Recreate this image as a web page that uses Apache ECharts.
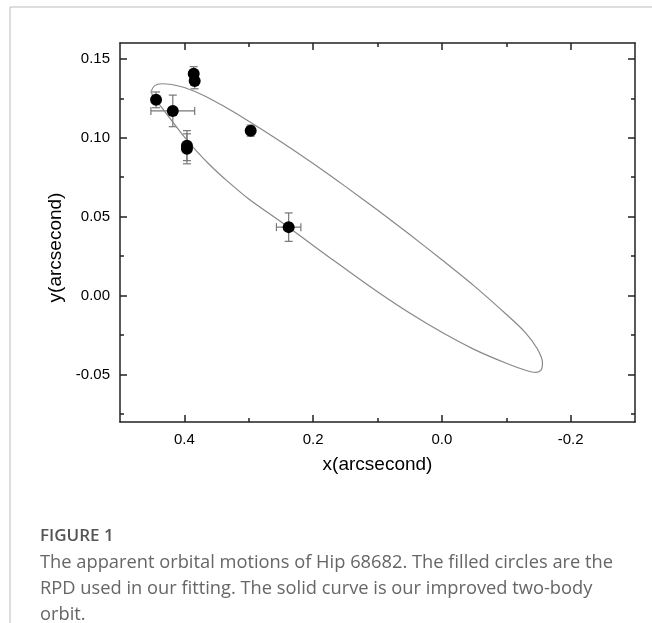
<!DOCTYPE html>
<html>
<head>
<meta charset="utf-8">
<script src="https://cdn.jsdelivr.net/npm/echarts@6/dist/echarts.min.js"></script>
<style>
    html, body { margin: 0; padding: 0; background: #fff; }
    #chart { width: 652px; height: 623px; }
</style>
</head>
<body>
<div id="chart"></div>
<script>
const obsX = [0.444, 0.418, 0.3855, 0.384, 0.396, 0.396, 0.297, 0.238];
const obsY = [0.124, 0.117, 0.1405, 0.136, 0.095, 0.093, 0.1045, 0.0434];
const errX = [0.004, 0.034, 0.003, 0.003, 0.003, 0.003, 0.003, 0.019];
const errY = [0.005, 0.010, 0.0045, 0.005, 0.0095, 0.0095, 0.0035, 0.009];

// Fitted orbit (upper branch, tip, lower branch)
const orbitX = [0.452, 0.446, 0.435, 0.420, 0.400, 0.370, 0.340, 0.300, 0.250, 0.200, 0.150, 0.100, 0.050, 0.000,
    -0.050, -0.100, -0.130, -0.148, -0.1563, -0.154, -0.146, -0.130, -0.100, -0.050, 0.000, 0.050, 0.100, 0.150,
    0.200, 0.250, 0.300, 0.340, 0.360, 0.380, 0.400, 0.420, 0.436, 0.447, 0.452];
const orbitY = [0.129, 0.1330, 0.1342, 0.1337, 0.1318, 0.1268, 0.1202, 0.1105, 0.0975, 0.0837, 0.0692, 0.0542, 0.0387, 0.0227,
    0.0062, -0.0118, -0.0235, -0.0335, -0.0425, -0.0472, -0.0486, -0.0472, -0.0428, -0.0340, -0.0232, -0.0110, 0.0025, 0.0170,
    0.0318, 0.0468, 0.0612, 0.0750, 0.0826, 0.0910, 0.1005, 0.1110, 0.1195, 0.1255, 0.129];

// Tick values
const xMajor = [0.4, 0.2, 0.0, -0.2];
const xMinor = [0.3, 0.1, -0.1];
const yMajor = [-0.05, 0.0, 0.05, 0.10, 0.15];
const yMinor = [-0.075, -0.025, 0.025, 0.075, 0.125];

const chart = echarts.init(document.getElementById('chart'));

const axisColor = '#222';
const sansFont = 'Liberation Sans, Arial, sans-serif';
const labelFont = { fontFamily: sansFont, fontSize: 15, color: '#000' };

// Builds one x or y axis; every side gets a major and a minor copy on the same scale
function makeAxis(kind, position, ticks, len, showLine, labels, extra) {
    const range = kind === 'x' ? { min: -0.3, max: 0.5, inverse: true } : { min: -0.08, max: 0.16 };
    return Object.assign({
        type: 'value',
        position: position,
        gridIndex: 0,
        axisLine: { show: showLine, onZero: false, lineStyle: { color: axisColor, width: 1.5 } },
        axisTick: { show: true, inside: true, length: len, customValues: ticks, lineStyle: { color: axisColor, width: 1.5 } },
        axisLabel: labels
            ? Object.assign({ show: true, customValues: ticks, margin: 10,
                formatter: v => v.toFixed(kind === 'x' ? 1 : 2) }, labelFont)
            : { show: false },
        splitLine: { show: false }
    }, range, extra || {});
}

const option = {
    animation: false,
    backgroundColor: '#fff',
    grid: { left: 120, right: 17, top: 43, bottom: 201 },
    xAxis: [
        makeAxis('x', 'bottom', xMajor, 7, true, true, {
            name: 'x(arcsecond)', nameLocation: 'middle', nameGap: 33,
            nameTextStyle: { fontFamily: sansFont, fontSize: 19, color: '#000' }
        }),
        makeAxis('x', 'bottom', xMinor, 4, false, false),
        makeAxis('x', 'top', xMajor, 7, true, false),
        makeAxis('x', 'top', xMinor, 4, false, false)
    ],
    yAxis: [
        makeAxis('y', 'left', yMajor, 7, true, true, {
            name: 'y(arcsecond)', nameLocation: 'middle', nameGap: 55,
            nameTextStyle: { fontFamily: sansFont, fontSize: 19, color: '#000', padding: [0, 30, 0, 0] }
        }),
        makeAxis('y', 'left', yMinor, 4, false, false),
        makeAxis('y', 'right', yMajor, 7, true, false),
        makeAxis('y', 'right', yMinor, 4, false, false)
    ],
    graphic: [
        // page frame
        { type: 'line', shape: { x1: 10, y1: 7, x2: 652, y2: 7 }, style: { stroke: '#bbb', lineWidth: 1 } },
        { type: 'line', shape: { x1: 10, y1: 7, x2: 10, y2: 623 }, style: { stroke: '#bbb', lineWidth: 1 } },
        // caption
        {
            type: 'text', left: 40, top: 528,
            style: { text: 'FIGURE 1', fontFamily: 'Open Sans', fontSize: 17, fontWeight: 600, fill: '#555' }
        },
        {
            type: 'text', left: 40, top: 550,
            style: {
                text: 'The apparent orbital motions of Hip 68682. The filled circles are the\n' +
                      'RPD used in our fitting. The solid curve is our improved two-body\n' +
                      'orbit.',
                fontFamily: 'Open Sans', fontSize: 18.3, lineHeight: 26, fill: '#666'
            }
        }
    ],
    series: [
        {
            name: 'orbit',
            type: 'line',
            data: orbitX.map((x, i) => [x, orbitY[i]]),
            smooth: 0.3,
            showSymbol: false,
            lineStyle: { color: '#888', width: 1.2 },
            silent: true
        },
        {
            name: 'error bars',
            type: 'custom',
            data: obsX.map((x, i) => [x, obsY[i], errX[i], errY[i]]),
            renderItem: function (params, api) {
                const x = api.value(0), y = api.value(1), ex = api.value(2), ey = api.value(3);
                const cap = 4;
                const st = { stroke: '#777', lineWidth: 1.2 };
                const top = api.coord([x, y + ey]);
                const bot = api.coord([x, y - ey]);
                const lft = api.coord([x + ex, y]);
                const rgt = api.coord([x - ex, y]);
                const kids = [
                    { type: 'line', shape: { x1: top[0], y1: top[1], x2: bot[0], y2: bot[1] }, style: st },
                    { type: 'line', shape: { x1: top[0] - cap, y1: top[1], x2: top[0] + cap, y2: top[1] }, style: st },
                    { type: 'line', shape: { x1: bot[0] - cap, y1: bot[1], x2: bot[0] + cap, y2: bot[1] }, style: st },
                    { type: 'line', shape: { x1: lft[0], y1: lft[1], x2: rgt[0], y2: rgt[1] }, style: st },
                    { type: 'line', shape: { x1: lft[0], y1: lft[1] - cap, x2: lft[0], y2: lft[1] + cap }, style: st },
                    { type: 'line', shape: { x1: rgt[0], y1: rgt[1] - cap, x2: rgt[0], y2: rgt[1] + cap }, style: st }
                ];
                return { type: 'group', children: kids };
            },
            z: 3
        },
        {
            name: 'RPD',
            type: 'scatter',
            data: obsX.map((x, i) => [x, obsY[i]]),
            symbol: 'circle',
            symbolSize: 12,
            itemStyle: { color: '#000', opacity: 1 },
            z: 4
        }
    ]
};

chart.setOption(option);
</script>
</body>
</html>
